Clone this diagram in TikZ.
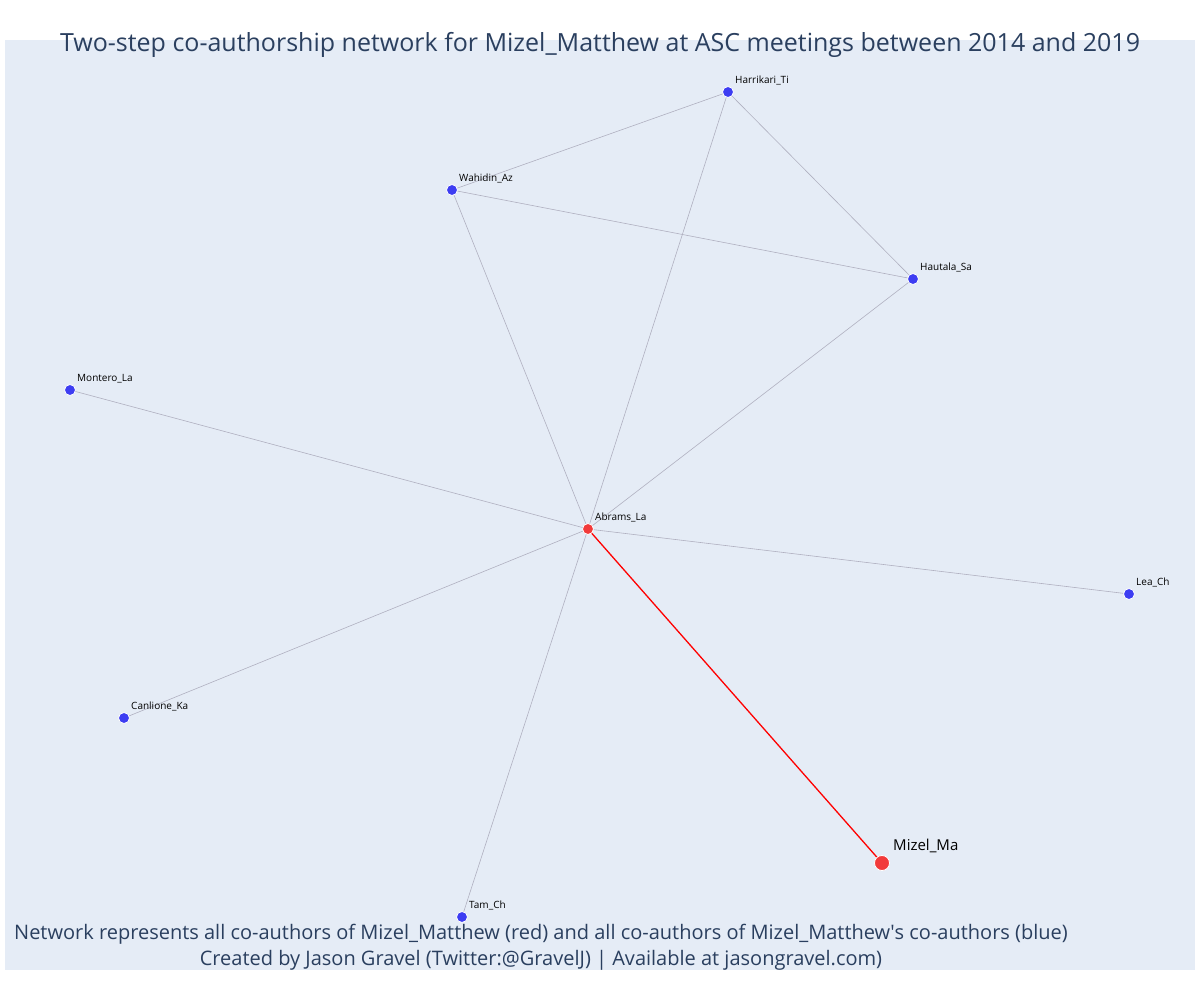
\documentclass[tikz,border=0pt]{standalone}
\usepackage{fontspec}
\setmainfont{Open Sans}
\usepackage{tikz}
\definecolor{plotbg}{HTML}{E5ECF6}
\definecolor{titleblue}{HTML}{2A3F5F}
\definecolor{nodeblue}{HTML}{3D3DF2}
\definecolor{nodered}{HTML}{F23A3A}
\definecolor{edgegray}{HTML}{B0B0C0}
\begin{document}
\begin{tikzpicture}[x=1pt,y=-1pt,
  author/.style={circle,fill=nodeblue,draw=white,line width=0.8pt,inner sep=0pt,minimum size=11pt},
  coauthor/.style={author,fill=nodered},
  focal/.style={author,fill=nodered,minimum size=15pt},
  authorlabel/.style={font=\fontsize{10}{12}\selectfont,anchor=south west,inner sep=0pt},
  link/.style={draw=edgegray,line width=0.6pt}]
\useasboundingbox (0,0) rectangle (1200,1000);
\fill[plotbg] (5,40) rectangle (1195,970);
\node[font=\fontsize{25}{29}\selectfont,text=titleblue] (title) at (600,45) {Two-step co-authorship network for Mizel\_Matthew at ASC meetings between 2014 and 2019};
% links
\path (728,92) coordinate (harr) (452,190) coordinate (wah);
\path (913,279) coordinate (haut) (70,390) coordinate (mont) (588,529) coordinate (abr)
  (1129,594) coordinate (lea) (124,718) coordinate (can) (882,863) coordinate (miz) (462,917) coordinate (tam);
\foreach \a/\b in {harr/wah,harr/haut,harr/abr,wah/haut,wah/abr,haut/abr,mont/abr,lea/abr,can/abr,tam/abr}
  \path[link] (\a) -- (\b);
\draw[red,line width=1.3pt] (abr) -- (miz);
% authors
\foreach \p/\lbl in {harr/Harrikari\_Ti,wah/Wahidin\_Az,haut/Hautala\_Sa,mont/Montero\_La,lea/Lea\_Ch,can/Canlione\_Ka,tam/Tam\_Ch}{
  \node[author] (\p-n) at (\p) {};
  \node[authorlabel] at ([shift={(7,-7)}]\p) {\lbl};
}
\node[coauthor] (abr-n) at (abr) {};
\node[authorlabel] at ([shift={(7,-7)}]abr) {Abrams\_La};
\node[focal] (miz-n) at (miz) {};
\node[authorlabel,font=\fontsize{15}{18}\selectfont] at ([shift={(11,-10)}]miz) {Mizel\_Ma};
% footer
\node[font=\fontsize{20}{26}\selectfont,text=titleblue,align=center] (foot) at (541,947) {Network represents all co-authors of Mizel\_Matthew (red) and all co-authors of Mizel\_Matthew\textquotesingle s co-authors (blue)\\Created by Jason Gravel (Twitter:@GravelJ) | Available at jasongravel.com)};
\end{tikzpicture}
\end{document}
